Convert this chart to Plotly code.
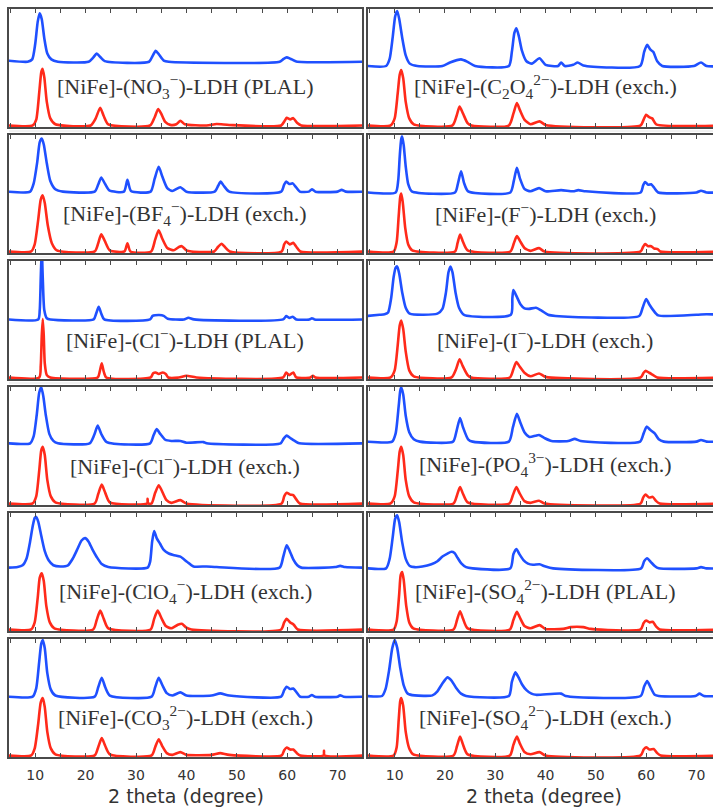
import plotly.graph_objects as go

# ---------------- data: (2 theta, intensity a.u.) ----------------
no3_plal_upper = [(4.5,0.01),(8.5,0.0),(9.4,0.02),(10.0,0.15),(10.5,0.34),(10.9,0.41),(11.3,0.36),(11.8,0.2),(12.4,0.07),(13.2,0.02),(14.5,0.0),
    (20.6,0.0),(21.5,0.035),(22.2,0.07),(22.9,0.04),(23.8,0.005),(32.6,0.0),(33.3,0.05),(33.9,0.093),(34.5,0.065),(35.5,0.01),(36.5,0.0),
    (58.5,0.0),(59.3,0.025),(59.9,0.037),(60.6,0.026),(61.8,0.002),(75.5,0.0)]
no3_plal_lower = [(4.5,0.0),(9.5,0.0),(10.2,0.05),(10.8,0.28),(11.2,0.45),(11.45,0.48),(11.8,0.41),(12.3,0.2),(13.0,0.06),(14.0,0.01),
    (21.0,0.0),(22.0,0.06),(22.9,0.15),(23.6,0.08),(24.5,0.01),(32.8,0.0),(33.7,0.07),(34.4,0.14),(35.0,0.1),(35.8,0.03),(36.8,0.005),
    (38.0,0.01),(38.8,0.04),(39.7,0.01),(44.0,0.0),(46.0,0.012),(48.5,0.004),
    (58.8,0.0),(59.5,0.04),(59.9,0.065),(60.6,0.052),(61.2,0.062),(62.0,0.02),(62.8,0.0),(75.5,0.0)]

c2o4_exch_upper = [(4.5,0.0),(8.3,0.0),(9.0,0.06),(9.6,0.24),(10.1,0.42),(10.5,0.466),(10.9,0.4),(11.5,0.24),(12.2,0.09),(13.0,0.02),(14.5,0.0),
    (19.5,0.0),(21.0,0.03),(23.2,0.056),(24.5,0.035),(26.0,0.0),
    (32.7,0.0),(33.3,0.12),(33.8,0.28),(34.2,0.32),(34.7,0.25),(35.3,0.13),(36.2,0.04),(37.3,0.02),(38.8,0.065),(40.0,0.01),
    (42.5,0.0),(43.1,0.03),(43.8,0.0),(45.5,0.01),(46.4,0.03),(47.5,0.005),
    (58.8,0.0),(59.6,0.12),(60.2,0.18),(60.8,0.14),(61.4,0.12),(62.2,0.04),(63.2,0.0),(69.5,0.0),(70.9,0.03),(72.0,0.0),(75.5,0.0)]
c2o4_exch_lower = [(4.5,0.0),(9.2,0.0),(10.0,0.06),(10.6,0.27),(11.0,0.43),(11.3,0.47),(11.7,0.4),(12.2,0.2),(12.9,0.06),(13.8,0.01),
    (21.5,0.0),(22.3,0.08),(22.9,0.16),(23.6,0.1),(24.5,0.02),(25.3,0.0),
    (32.7,0.0),(33.6,0.1),(34.3,0.19),(34.9,0.13),(35.8,0.05),(37.0,0.01),(38.8,0.035),(40.0,0.005),
    (58.9,0.0),(59.5,0.05),(60.0,0.09),(60.6,0.07),(61.2,0.06),(62.0,0.01),(75.5,0.0)]

bf4_exch_upper = [(4.5,0.0),(9.0,0.0),(9.7,0.07),(10.4,0.25),(10.9,0.42),(11.3,0.45),(11.7,0.4),(12.3,0.24),(13.0,0.09),(14.0,0.02),(15.5,0.0),
    (21.8,0.0),(22.5,0.06),(23.1,0.12),(23.8,0.07),(24.7,0.01),(27.6,0.0),(28.3,0.1),(29.0,0.005),
    (32.9,0.0),(33.7,0.11),(34.5,0.21),(35.2,0.13),(36.2,0.03),(37.2,0.005),(38.8,0.037),(40.0,0.0),
    (45.6,0.0),(46.3,0.05),(46.8,0.085),(47.4,0.05),(48.5,0.0),
    (58.8,0.0),(59.4,0.06),(59.8,0.085),(60.4,0.065),(61.1,0.07),(61.7,0.04),(62.5,0.0),
    (64.3,0.0),(64.9,0.02),(65.6,0.0),(70.0,0.0),(70.8,0.015),(71.6,0.0),(75.5,0.0)]
bf4_exch_lower = [(4.5,0.0),(9.2,0.0),(9.9,0.06),(10.6,0.27),(11.1,0.44),(11.5,0.475),(11.9,0.41),(12.5,0.22),(13.3,0.07),(14.3,0.01),
    (21.8,0.0),(22.5,0.07),(23.1,0.145),(23.8,0.09),(24.8,0.01),(27.7,0.0),(28.3,0.07),(28.9,0.0),
    (33.0,0.0),(33.8,0.1),(34.5,0.18),(35.2,0.11),(36.2,0.03),(37.5,0.01),(38.6,0.04),(39.1,0.045),(40.0,0.01),(41.0,0.0),
    (45.5,0.0),(46.3,0.04),(47.0,0.065),(47.6,0.04),(48.6,0.0),
    (58.9,0.0),(59.4,0.06),(59.8,0.085),(60.5,0.06),(61.2,0.073),(61.8,0.04),(62.6,0.0),(75.5,0.0)]

f_exch_upper = [(4.5,0.0),(10.2,0.0),(10.7,0.1),(11.0,0.3),(11.3,0.45),(11.5,0.475),(11.8,0.4),(12.2,0.22),(12.7,0.07),(13.4,0.01),
    (22.0,0.0),(22.6,0.08),(23.2,0.18),(23.8,0.08),(24.6,0.01),
    (33.0,0.0),(33.7,0.1),(34.3,0.21),(34.9,0.12),(35.8,0.03),(37.0,0.01),(38.7,0.037),(40.0,0.01),
    (43.1,0.02),(45.5,0.01),(46.5,0.02),(48.0,0.01),
    (58.9,0.0),(59.4,0.06),(59.8,0.088),(60.4,0.065),(61.0,0.07),(61.6,0.04),(62.4,0.0),(70.0,0.0),(70.9,0.015),(72.0,0.0),(75.5,0.0)]
f_exch_lower = [(4.5,0.0),(9.8,0.0),(10.4,0.08),(10.8,0.3),(11.1,0.46),(11.3,0.49),(11.6,0.42),(12.1,0.2),(12.7,0.06),(13.5,0.01),
    (22.0,0.0),(22.5,0.07),(23.0,0.144),(23.6,0.08),(24.5,0.01),
    (33.0,0.0),(33.7,0.07),(34.3,0.13),(34.9,0.09),(35.8,0.03),(37.0,0.005),(38.7,0.028),(39.8,0.0),
    (58.9,0.0),(59.4,0.04),(59.8,0.062),(60.4,0.045),(61.0,0.045),(61.6,0.025),(62.3,0.02),(62.8,0.0),(75.5,0.0)]

cl_plal_upper = [(4.5,0.0),(10.6,0.0),(10.9,0.08),(11.1,0.35),(11.3,0.6),(11.5,0.35),(11.8,0.08),(12.3,0.01),(13.0,0.0),
    (21.6,0.0),(22.1,0.05),(22.6,0.107),(23.1,0.05),(23.7,0.0),
    (32.8,0.0),(33.3,0.03),(33.8,0.035),(34.6,0.037),(35.5,0.03),(36.3,0.005),(39.5,0.0),(40.4,0.014),(41.5,0.0),
    (59.2,0.0),(59.8,0.028),(60.4,0.012),(61.1,0.023),(61.8,0.0),(64.4,0.0),(64.9,0.01),(65.4,0.0),(75.5,0.0)]
cl_plal_lower = [(4.5,0.0),(10.8,0.0),(11.1,0.1),(11.3,0.35),(11.5,0.494),(11.7,0.35),(11.9,0.12),(12.3,0.02),(13.0,0.0),
    (22.4,0.0),(22.8,0.05),(23.2,0.119),(23.6,0.05),(24.1,0.0),
    (32.9,0.0),(33.4,0.035),(33.9,0.042),(34.5,0.03),(35.3,0.042),(35.9,0.03),(36.4,0.0),(38.5,0.0),(40.0,0.014),(42.0,0.0),
    (59.2,0.0),(59.8,0.042),(60.4,0.02),(61.2,0.042),(61.8,0.0),(64.6,0.0),(65.1,0.015),(65.6,0.0),(75.5,0.0)]

i_exch_upper = [(4.5,0.0),(7.0,0.01),(8.0,0.015),(8.7,0.03),(9.3,0.15),(9.8,0.33),(10.2,0.41),(10.5,0.42),(10.9,0.36),(11.5,0.2),(12.2,0.07),(13.0,0.02),
    (18.5,0.02),(19.5,0.06),(20.2,0.2),(20.7,0.37),(21.1,0.42),(21.5,0.37),(22.1,0.2),(22.8,0.07),(23.8,0.01),
    (33.1,0.01),(33.4,0.15),(33.6,0.22),(34.2,0.17),(35.0,0.1),(35.8,0.065),(36.7,0.06),(38.1,0.07),(39.2,0.045),(40.5,0.01),(42.0,0.0),
    (58.6,0.0),(59.3,0.07),(60.0,0.144),(60.6,0.1),(61.4,0.05),(62.4,0.005),(70.0,0.01),(72.0,0.015),(75.5,0.01)]
i_exch_lower = [(4.5,0.0),(9.2,0.0),(10.0,0.06),(10.6,0.27),(11.0,0.44),(11.3,0.483),(11.7,0.41),(12.2,0.22),(12.9,0.06),(13.8,0.01),
    (21.3,0.0),(22.2,0.07),(22.9,0.155),(23.5,0.1),(24.5,0.02),(25.2,0.0),
    (32.9,0.0),(33.6,0.07),(34.2,0.13),(34.9,0.09),(35.8,0.04),(37.0,0.01),(38.7,0.034),(40.0,0.005),
    (58.9,0.0),(59.5,0.04),(59.9,0.056),(60.6,0.04),(61.4,0.02),(62.2,0.0),(75.5,0.0)]

cl_exch_upper = [(4.5,0.0),(9.0,0.0),(9.7,0.06),(10.3,0.24),(10.8,0.43),(11.2,0.475),(11.6,0.4),(12.1,0.24),(12.8,0.08),(13.6,0.02),(14.5,0.0),
    (20.8,0.0),(21.7,0.07),(22.4,0.15),(23.1,0.08),(24.2,0.01),
    (32.8,0.0),(33.5,0.07),(34.1,0.12),(34.8,0.08),(35.8,0.03),(37.0,0.02),(38.8,0.02),(40.0,0.005),(43.4,0.01),(44.0,0.0),
    (58.7,0.0),(59.3,0.04),(59.9,0.065),(60.6,0.045),(61.5,0.02),(62.4,0.0),(75.5,0.0)]
cl_exch_lower = [(4.5,0.0),(9.5,0.0),(10.2,0.06),(10.8,0.28),(11.2,0.45),(11.5,0.48),(11.9,0.41),(12.4,0.2),(13.1,0.06),(14.0,0.01),
    (21.8,0.0),(22.5,0.08),(23.2,0.16),(23.9,0.09),(24.8,0.01),(32.2,0.0),(32.3,0.04),(32.4,0.0),
    (33.1,0.0),(33.8,0.09),(34.5,0.155),(35.1,0.11),(36.0,0.03),(37.0,0.005),(38.8,0.028),(40.0,0.0),
    (58.9,0.0),(59.4,0.06),(59.9,0.09),(60.6,0.075),(61.2,0.07),(61.8,0.035),(62.5,0.0),(75.5,0.0)]

po4_exch_upper = [(4.5,0.0),(9.5,0.0),(10.2,0.07),(10.8,0.3),(11.1,0.43),(11.3,0.46),(11.7,0.4),(12.2,0.22),(12.9,0.08),(13.8,0.02),(15.0,0.0),
    (21.6,0.0),(22.3,0.09),(23.0,0.2),(23.6,0.12),(24.6,0.02),(25.5,0.0),
    (32.7,0.0),(33.5,0.12),(34.3,0.235),(35.0,0.16),(35.8,0.08),(36.8,0.04),(38.0,0.05),(38.7,0.056),(39.8,0.03),(41.2,0.005),
    (44.5,0.005),(45.8,0.023),(47.0,0.005),
    (58.8,0.0),(59.5,0.07),(60.1,0.127),(60.8,0.1),(61.7,0.07),(62.5,0.02),(63.5,0.0),(70.0,0.0),(70.9,0.014),(72.0,0.0),(75.5,0.0)]
po4_exch_lower = [(4.5,0.0),(9.2,0.0),(10.0,0.06),(10.6,0.27),(11.0,0.44),(11.3,0.48),(11.7,0.41),(12.2,0.2),(12.9,0.06),(13.8,0.01),
    (21.7,0.0),(22.4,0.07),(23.0,0.14),(23.6,0.08),(24.5,0.01),
    (32.8,0.0),(33.5,0.07),(34.2,0.14),(34.8,0.09),(35.8,0.02),(37.0,0.005),(38.7,0.023),(39.8,0.0),
    (58.9,0.0),(59.4,0.05),(59.9,0.076),(60.6,0.05),(61.3,0.056),(62.0,0.02),(62.7,0.0),(75.5,0.0)]

clo4_exch_upper = [(4.5,0.0),(6.5,0.005),(7.5,0.02),(8.3,0.08),(8.9,0.2),(9.5,0.35),(9.9,0.42),(10.2,0.43),(10.6,0.39),(11.2,0.27),(11.9,0.14),(12.7,0.06),(13.6,0.02),(15.0,0.01),
    (16.5,0.02),(17.5,0.08),(18.3,0.15),(19.2,0.23),(19.9,0.25),(20.6,0.22),(21.4,0.15),(22.2,0.09),(23.2,0.03),(24.5,0.005),
    (32.3,0.0),(32.8,0.05),(33.2,0.22),(33.6,0.31),(34.1,0.25),(34.8,0.2),(35.5,0.15),(36.5,0.12),(37.4,0.107),(38.8,0.093),(40.1,0.05),(41.4,0.01),
    (44.0,0.01),(46.0,0.005),
    (58.5,0.0),(59.2,0.09),(59.9,0.19),(60.5,0.14),(61.2,0.07),(62.0,0.02),(62.8,0.0),(69.5,0.005),(70.5,0.015),(71.5,0.005),(75.5,0.0)]
clo4_exch_lower = [(4.5,0.0),(9.2,0.0),(9.9,0.06),(10.5,0.27),(10.9,0.44),(11.3,0.477),(11.7,0.41),(12.2,0.2),(12.9,0.06),(13.8,0.01),
    (21.5,0.0),(22.2,0.08),(22.9,0.16),(23.6,0.09),(24.5,0.01),
    (32.9,0.0),(33.6,0.09),(34.3,0.16),(35.0,0.1),(35.9,0.03),(37.0,0.01),(38.3,0.04),(39.1,0.048),(40.0,0.015),(41.0,0.0),
    (58.8,0.0),(59.4,0.06),(59.9,0.09),(60.6,0.06),(61.3,0.04),(62.1,0.0),(75.5,0.0)]

so4_plal_upper = [(4.5,0.0),(8.3,0.0),(9.0,0.08),(9.6,0.26),(10.1,0.42),(10.5,0.45),(10.9,0.39),(11.5,0.22),(12.2,0.08),(13.0,0.02),(14.0,0.01),
    (15.5,0.015),(17.3,0.034),(18.5,0.06),(19.5,0.1),(20.5,0.125),(21.3,0.14),(21.9,0.13),(22.5,0.09),(23.3,0.04),(24.2,0.01),(25.5,0.0),
    (33.0,0.0),(33.6,0.12),(34.2,0.164),(34.8,0.12),(35.6,0.07),(36.5,0.04),(37.5,0.03),(38.8,0.034),(40.0,0.015),(41.5,0.0),
    (59.0,0.0),(59.6,0.06),(60.2,0.085),(60.9,0.055),(61.7,0.02),(62.5,0.0),(70.0,0.0),(70.9,0.01),(72.0,0.0),(75.5,0.0)]
so4_plal_lower = [(4.5,0.0),(9.8,0.0),(10.4,0.07),(10.9,0.3),(11.2,0.46),(11.5,0.486),(11.8,0.42),(12.3,0.2),(12.9,0.06),(13.7,0.01),
    (21.7,0.0),(22.4,0.08),(23.0,0.155),(23.6,0.09),(24.5,0.01),
    (32.9,0.0),(33.6,0.08),(34.3,0.15),(34.9,0.1),(35.8,0.03),(37.0,0.01),(38.8,0.037),(40.0,0.005),
    (43.5,0.005),(45.0,0.02),(47.5,0.02),(49.0,0.005),
    (58.9,0.0),(59.5,0.055),(60.0,0.076),(60.7,0.06),(61.3,0.065),(62.0,0.025),(62.7,0.0),(75.5,0.0)]

co3_exch_upper = [(4.5,0.0),(9.5,0.0),(10.2,0.07),(10.8,0.3),(11.2,0.45),(11.5,0.48),(11.9,0.41),(12.4,0.2),(13.1,0.06),(14.0,0.01),
    (21.8,0.0),(22.5,0.08),(23.2,0.16),(23.9,0.08),(24.8,0.01),
    (33.1,0.0),(33.8,0.08),(34.5,0.16),(35.2,0.1),(36.1,0.03),(37.2,0.01),(38.8,0.037),(40.0,0.01),
    (45.0,0.01),(46.7,0.028),(48.5,0.01),
    (58.8,0.0),(59.4,0.055),(59.9,0.085),(60.6,0.065),(61.2,0.07),(61.9,0.035),(62.6,0.0),
    (64.3,0.0),(64.9,0.015),(65.5,0.0),(70.0,0.0),(70.5,0.012),(71.2,0.0),(75.5,0.0)]
co3_exch_lower = [(4.5,0.0),(9.2,0.0),(9.9,0.06),(10.6,0.27),(11.1,0.45),(11.5,0.486),(11.9,0.41),(12.4,0.2),(13.1,0.06),(14.0,0.01),
    (21.8,0.0),(22.5,0.07),(23.2,0.147),(23.9,0.08),(24.8,0.01),
    (33.1,0.0),(33.8,0.07),(34.5,0.138),(35.2,0.08),(36.1,0.02),(37.2,0.005),(38.8,0.028),(40.0,0.005),
    (45.0,0.005),(46.7,0.02),(48.5,0.005),
    (58.9,0.0),(59.4,0.045),(59.9,0.068),(60.6,0.05),(61.2,0.05),(61.9,0.02),(62.6,0.0),
    (67.2,0.0),(67.3,0.04),(67.4,0.0),(75.5,0.0)]

so4_exch_upper = [(4.5,0.0),(7.5,0.0),(8.2,0.06),(8.9,0.22),(9.5,0.4),(10.0,0.475),(10.5,0.41),(11.1,0.24),(11.8,0.09),(12.6,0.02),(14.0,0.005),
    (17.5,0.005),(18.5,0.04),(19.4,0.1),(20.5,0.158),(21.3,0.13),(22.2,0.07),(23.2,0.02),(24.2,0.0),
    (32.7,0.0),(33.3,0.12),(34.0,0.2),(34.6,0.16),(35.3,0.1),(36.2,0.05),(37.2,0.02),(38.1,0.01),(43.1,0.02),(44.0,0.0),
    (58.9,0.0),(59.6,0.08),(60.2,0.127),(60.8,0.08),(61.7,0.01),(62.5,0.0),(69.8,0.0),(70.6,0.02),(71.5,0.0),(75.5,0.0)]
so4_exch_lower = [(4.5,0.0),(9.8,0.0),(10.4,0.07),(10.8,0.3),(11.1,0.46),(11.3,0.486),(11.7,0.42),(12.2,0.2),(12.9,0.06),(13.7,0.01),
    (21.7,0.0),(22.4,0.08),(23.0,0.16),(23.6,0.09),(24.5,0.01),
    (32.9,0.0),(33.6,0.09),(34.3,0.16),(34.9,0.1),(35.8,0.03),(37.0,0.01),(38.8,0.028),(40.0,0.0),
    (58.9,0.0),(59.5,0.05),(60.0,0.07),(60.7,0.05),(61.5,0.055),(62.2,0.02),(62.9,0.0),(75.5,0.0)]

panel_labels = [
    "[NiFe]-(NO<sub>3</sub><sup>−</sup>)-LDH (PLAL)", "[NiFe]-(C<sub>2</sub>O<sub>4</sub><sup>2−</sup>)-LDH (exch.)",
    "[NiFe]-(BF<sub>4</sub><sup>−</sup>)-LDH (exch.)", "[NiFe]-(F<sup>−</sup>)-LDH (exch.)",
    "[NiFe]-(Cl<sup>−</sup>)-LDH (PLAL)", "[NiFe]-(I<sup>−</sup>)-LDH (exch.)",
    "[NiFe]-(Cl<sup>−</sup>)-LDH (exch.)", "[NiFe]-(PO<sub>4</sub><sup>3−</sup>)-LDH (exch.)",
    "[NiFe]-(ClO<sub>4</sub><sup>−</sup>)-LDH (exch.)", "[NiFe]-(SO<sub>4</sub><sup>2−</sup>)-LDH (PLAL)",
    "[NiFe]-(CO<sub>3</sub><sup>2−</sup>)-LDH (exch.)", "[NiFe]-(SO<sub>4</sub><sup>2−</sup>)-LDH (exch.)",
]
upper_series = [no3_plal_upper, c2o4_exch_upper, bf4_exch_upper, f_exch_upper, cl_plal_upper, i_exch_upper,
                cl_exch_upper, po4_exch_upper, clo4_exch_upper, so4_plal_upper, co3_exch_upper, so4_exch_upper]
lower_series = [no3_plal_lower, c2o4_exch_lower, bf4_exch_lower, f_exch_lower, cl_plal_lower, i_exch_lower,
                cl_exch_lower, po4_exch_lower, clo4_exch_lower, so4_plal_lower, co3_exch_lower, so4_exch_lower]
tick_values = [10, 20, 30, 40, 50, 60, 70]
x_title = "2 theta (degree)"

# ---------------- style / layout ----------------
W, H = 713, 808
BLUE = "#1f50ff"
RED = "#ff2a1a"
AXC = "#4a4a4a"
upper_offset = [0.553, 0.517, 0.52, 0.513, 0.505, 0.534, 0.523, 0.537, 0.537, 0.531, 0.511, 0.517]
lower_offset = 0.013
col_px = [(9, 362), (368, 713)]
col_range = [(4.8, 4.8 + 353 / 5.04), (4.7, 4.7 + 345 / 5.03)]
label_x_px = [185, 545]
title_x_px = [186, 544]

fig = go.Figure()
layout = dict(width=W, height=H, margin=dict(l=0, r=0, t=0, b=0),
              paper_bgcolor="white", plot_bgcolor="white", showlegend=False)
annotations = []
shapes = []

for k in range(12):
    row, col = divmod(k, 2)
    top = 9 + 126 * row
    bot = top + 118
    idx = k + 1
    xa = "xaxis" if idx == 1 else f"xaxis{idx}"
    ya = "yaxis" if idx == 1 else f"yaxis{idx}"
    xr = "x" if idx == 1 else f"x{idx}"
    yr = "y" if idx == 1 else f"y{idx}"
    x0, x1 = col_px[col]
    layout[xa] = dict(domain=[x0 / W, x1 / W], range=list(col_range[col]), anchor=yr,
                      showline=True, linecolor=AXC, linewidth=1.5, mirror="ticks",
                      ticks="inside", ticklen=4, tickwidth=1.2, tickcolor=AXC,
                      tick0=0, dtick=5, showgrid=False, zeroline=False,
                      showticklabels=False)
    if row == 5:
        layout[xa].update(showticklabels=True, tickmode="array", tickvals=tick_values,
                          ticktext=[str(v) for v in tick_values], ticklabelstandoff=4,
                          tickfont=dict(family="DejaVu Sans", size=14, color="#333"))
        layout[xa]["minor"] = dict(ticks="inside", ticklen=4, tickcolor=AXC, dtick=5, tick0=0, tickwidth=1.2)
    layout[ya] = dict(domain=[1 - bot / H, 1 - top / H], range=[0, 1], anchor=xr,
                      showline=True, linecolor=AXC, linewidth=1.5, mirror=(col == 0),
                      showticklabels=False, ticks="", showgrid=False, zeroline=False)
    up = upper_series[k]
    lo = lower_series[k]
    fig.add_trace(go.Scatter(x=[p[0] for p in lo], y=[lower_offset + p[1] for p in lo],
                             mode="lines", line=dict(color=RED, width=2.6, shape="spline", smoothing=0.6),
                             xaxis=xr, yaxis=yr, hoverinfo="skip"))
    fig.add_trace(go.Scatter(x=[p[0] for p in up], y=[upper_offset[k] + p[1] for p in up],
                             mode="lines", line=dict(color=BLUE, width=2.6, shape="spline", smoothing=0.6),
                             xaxis=xr, yaxis=yr, hoverinfo="skip"))
    annotations.append(dict(text=panel_labels[k], x=label_x_px[col] / W, y=1 - (top + 78) / H,
                            xref="paper", yref="paper", showarrow=False, xanchor="center", yanchor="middle",
                            font=dict(family="Liberation Serif", size=22, color="#333")))
    if row > 0:
        shapes.append(dict(type="line", xref="paper", yref="paper", x0=x0 / W, x1=x1 / W,
                           y0=1 - (top - 4) / H, y1=1 - (top - 4) / H, line=dict(color="#e2e2e2", width=1)))

for col in range(2):
    annotations.append(dict(text=x_title, x=title_x_px[col] / W, y=1 - 796 / H, xref="paper", yref="paper",
                            showarrow=False, xanchor="center", yanchor="middle",
                            font=dict(family="DejaVu Sans", size=19, color="#333")))

layout["annotations"] = annotations
layout["shapes"] = shapes
fig.update_layout(**layout)
fig.write_html("out.html")
